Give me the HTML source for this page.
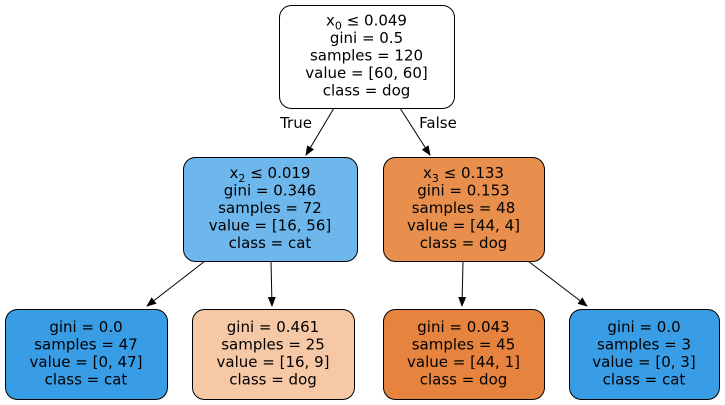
<!DOCTYPE html>
<html><head><meta charset="utf-8"><style>
html,body{margin:0;padding:0;background:#fff;}
svg{display:block;font-family:"DejaVu Sans","Liberation Sans",sans-serif;}
</style></head><body>
<svg id="tree" width="725" height="405" viewBox="0 0 725 405">
<defs><marker id="ah" markerWidth="10" markerHeight="10" refX="9" refY="5" orient="auto" markerUnits="userSpaceOnUse"><path d="M0,1 L10,5 L0,9 Z" fill="#000"/></marker></defs>
</svg>
<script>
const nodeNames=['root-node','left-node','right-node','leaf-ll','leaf-lr','leaf-rl','leaf-rr'];
const nodeLines=[
 ['x<tspan dy="4" font-size="11">0</tspan><tspan dy="-4"> ≤ 0.049</tspan>','gini = 0.5','samples = 120','value = [60, 60]','class = dog'],
 ['x<tspan dy="4" font-size="11">2</tspan><tspan dy="-4"> ≤ 0.019</tspan>','gini = 0.346','samples = 72','value = [16, 56]','class = cat'],
 ['x<tspan dy="4" font-size="11">3</tspan><tspan dy="-4"> ≤ 0.133</tspan>','gini = 0.153','samples = 48','value = [44, 4]','class = dog'],
 ['gini = 0.0','samples = 47','value = [0, 47]','class = cat'],
 ['gini = 0.461','samples = 25','value = [16, 9]','class = dog'],
 ['gini = 0.043','samples = 45','value = [44, 1]','class = dog'],
 ['gini = 0.0','samples = 3','value = [0, 3]','class = cat']];
const nodeColors=['#ffffff','#6eb7ec','#e88f4e','#399de5','#f6c8a5','#e6843f','#399de5'];
const nodeBoxes=[[279,5,175,103],[183,157,174,104],[383,157,161,104],[5,309,162,90],[192,309,162,90],[383,309,161,90],[569,309,150,90]];
const edges=[[334,108,306,155,'True',296,128],[400,108,430,155,'False',438,128],[205,261,147,306],[271,261,272,306],[463,261,462,306],[528,261,587,306]];
const svg=document.getElementById('tree');
const NS='http://www.w3.org/2000/svg';
edges.forEach((e,i)=>{
 const l=document.createElementNS(NS,'line');
 
 
 l.setAttribute('x1',e[0]);l.setAttribute('y1',e[1]);l.setAttribute('x2',e[2]);l.setAttribute('y2',e[3]);
 l.setAttribute('stroke','#000');l.setAttribute('marker-end','url(#ah)');
 svg.appendChild(l);
 if(e[4]){const t=document.createElementNS(NS,'text');
  
  
  t.setAttribute('x',e[5]);t.setAttribute('y',e[6]);t.setAttribute('text-anchor','middle');t.setAttribute('font-size','15');
  t.textContent=e[4];svg.appendChild(t);}
});
nodeBoxes.forEach((b,i)=>{
 const g=document.createElementNS(NS,'g');
 
 
 const r=document.createElementNS(NS,'rect');
 r.setAttribute('x',b[0]+0.5);r.setAttribute('y',b[1]+0.5);r.setAttribute('width',b[2]);r.setAttribute('height',b[3]);
 r.setAttribute('rx',12);r.setAttribute('fill',nodeColors[i]);r.setAttribute('stroke','#000');
 g.appendChild(r);
 const n=nodeLines[i].length,cx=b[0]+b[2]/2,lh=17.5;
 const y0=b[1]+b[3]/2-(n-1)*lh/2+4;
 nodeLines[i].forEach((s,j)=>{
  const t=document.createElementNS(NS,'text');
  
  
  t.setAttribute('x',cx);t.setAttribute('y',y0+j*lh);t.setAttribute('text-anchor','middle');t.setAttribute('font-size','15');
  t.innerHTML=s;g.appendChild(t);
 });
 svg.appendChild(g);
});
</script>
</body></html>
